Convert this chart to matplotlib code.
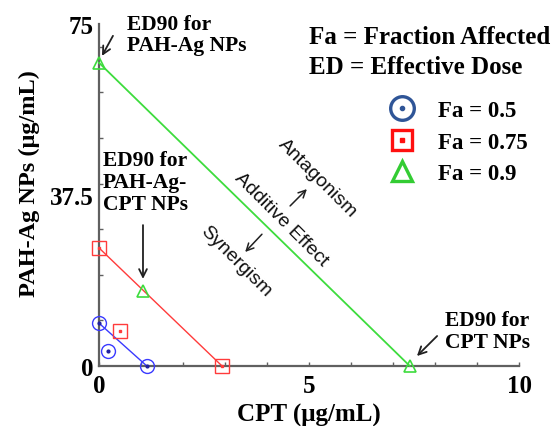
import matplotlib
matplotlib.use('Agg')
import matplotlib.pyplot as plt
from matplotlib.lines import Line2D

# isobologram data (CPT, PAH-Ag NPs) in ug/mL
fa05_cpt = [0.0, 1.14]
fa05_ag = [9.4, 0.0]
fa05_extra_cpt = [0.21]
fa05_extra_ag = [3.3]

fa075_cpt = [0.0, 2.93]
fa075_ag = [25.9, 0.0]
fa075_extra_cpt = [0.5]
fa075_extra_ag = [7.7]

fa09_cpt = [0.0, 7.4]
fa09_ag = [66.5, 0.0]
fa09_combo_cpt = [1.05]
fa09_combo_ag = [16.4]

xticks = list(range(11))
xlabels = ['0', '', '', '', '', '5', '', '', '', '', '10']
yticks = [0, 37.5, 75]
ylabels = ['0', '37.5', '75']
yminor = [10, 20, 30, 40, 50, 60, 70]

BLUE = '#3a3aff'
RED = '#ff3b3b'
GREEN = '#3ddc3d'
serif = 'Liberation Serif'
sans = 'Liberation Sans'

fig = plt.figure(figsize=(5.56, 4.27), dpi=100)
ax = fig.add_axes([0.178, 0.1405, 0.7555, 0.801])

# Fa = 0.5
ax.plot(fa05_cpt, fa05_ag, color=BLUE, lw=1.0, marker='o', ms=10,
        mfc='none', mec=BLUE, mew=1.0, clip_on=False, zorder=3)
ax.plot(fa05_extra_cpt, fa05_extra_ag, ls='none', marker='o', ms=10,
        mfc='none', mec=BLUE, mew=1.0, clip_on=False, zorder=3)
ax.plot(fa05_cpt + fa05_extra_cpt, fa05_ag + fa05_extra_ag, ls='none',
        marker='o', ms=2, color='#2020a0', clip_on=False, zorder=4)

# Fa = 0.75
ax.plot(fa075_cpt, fa075_ag, color=RED, lw=1.0, marker='s', ms=10,
        mfc='none', mec=RED, mew=1.0, clip_on=False, zorder=3)
ax.plot(fa075_extra_cpt, fa075_extra_ag, ls='none', marker='s', ms=10,
        mfc='none', mec=RED, mew=1.0, clip_on=False, zorder=3)
ax.plot(fa075_cpt + fa075_extra_cpt, fa075_ag + fa075_extra_ag, ls='none',
        marker='s', ms=1.5, color=RED, clip_on=False, zorder=4)

# Fa = 0.9
ax.plot(fa09_cpt, fa09_ag, color=GREEN, lw=1.3, marker='^', ms=9,
        mfc='none', mec=GREEN, mew=1.2, clip_on=False, zorder=3)
ax.plot(fa09_combo_cpt, fa09_combo_ag, ls='none', marker='^', ms=9,
        mfc='none', mec=GREEN, mew=1.2, clip_on=False, zorder=3)

ax.set_xlim(0, 10)
ax.set_ylim(0, 75)
for s in ['top', 'right']:
    ax.spines[s].set_visible(False)
for s in ['left', 'bottom']:
    ax.spines[s].set_color('#606060')
    ax.spines[s].set_linewidth(1.6)

ax.set_xticks(xticks, labels=xlabels)
ax.set_yticks(yticks, labels=ylabels)
ax.set_yticks(yminor, minor=True)
ax.tick_params(axis='x', direction='in', length=3, width=1, color='#606060', pad=6)
ax.tick_params(axis='y', which='major', length=0, pad=4)
ax.tick_params(axis='y', which='minor', direction='in', length=3, width=1, color='#606060')
for lab in ax.get_xticklabels() + ax.get_yticklabels():
    lab.set_fontfamily(serif)
    lab.set_fontweight('bold')
    lab.set_fontsize(18)

ax.set_xlabel('CPT (\u03bcg/mL)', fontfamily=serif, fontweight='bold', fontsize=18, labelpad=4)
ax.set_ylabel('PAH-Ag NPs (\u03bcg/mL)', fontfamily=serif, fontweight='bold', fontsize=17.5)
ax.yaxis.set_label_coords(-0.14, 0.535)

# annotations
tk = dict(fontfamily=serif, fontweight='bold', fontsize=15.5, linespacing=1.12)
ak = dict(arrowstyle='->', lw=1.3, color='#202020', shrinkA=0, shrinkB=0,
          mutation_scale=14)
ax.text(0.667, 72.7, 'ED90 for\nPAH-Ag NPs', ha='left', va='center', **tk)
ax.annotate('', xy=(0.071, 68.0), xytext=(0.333, 72.4), arrowprops=ak)
ax.text(0.1, 40.4, 'ED90 for\nPAH-Ag-\nCPT NPs', ha='left', va='center', **tk)
ax.annotate('', xy=(1.048, 19.1), xytext=(1.048, 30.9), arrowprops=ak)
ax.text(8.24, 7.7, 'ED90 for\nCPT NPs', ha='left', va='center', **tk)
ax.annotate('', xy=(7.57, 2.19), xytext=(8.05, 6.58), arrowprops=ak)

rk = dict(fontfamily=sans, fontsize=14, rotation=-45, rotation_mode='anchor',
          ha='center', va='center', color='#101010')
ax.text(5.21, 41.4, 'Antagonism', **rk)
ax.text(4.33, 32.2, 'Additive Effect', **rk)
ax.text(3.26, 23.0, 'Synergism', **rk)
ak2 = dict(arrowstyle='->', lw=1.1, color='#202020', shrinkA=0, shrinkB=0,
           mutation_scale=13)
ax.annotate('', xy=(4.95, 38.8), xytext=(4.55, 35.1), arrowprops=ak2)
ax.annotate('', xy=(3.48, 25.0), xytext=(3.88, 28.9), arrowprops=ak2)

fig.text(0.556, 0.913, 'Fa = Fraction Affected', ha='left', va='center',
         fontfamily=serif, fontweight='bold', fontsize=18)
fig.text(0.556, 0.841, 'ED = Effective Dose', ha='left', va='center',
         fontfamily=serif, fontweight='bold', fontsize=18)

# legend
h1 = (Line2D([], [], ls='none', marker='o', ms=17, mfc='none', mec='#2f5597', mew=2.4),
      Line2D([], [], ls='none', marker='o', ms=3, color='#2f5597'))
h2 = (Line2D([], [], ls='none', marker='s', ms=15, mfc='none', mec='#ff1010', mew=2.4),
      Line2D([], [], ls='none', marker='s', ms=2.5, color='#ff1010'))
h3 = Line2D([], [], ls='none', marker='^', ms=15, mfc='none', mec='#33cc33', mew=2.4)
leg = ax.legend([h1, h2, h3], ['Fa = 0.5', 'Fa = 0.75', 'Fa = 0.9'],
                loc='upper left', bbox_to_anchor=(377 / 556, 1 - 90 / 427),
                bbox_transform=fig.transFigure, frameon=False, borderpad=0,
                handlelength=1.2, handletextpad=0.98, labelspacing=0.45,
                prop=dict(family=serif, weight='bold', size=16.5))

fig.savefig('out.png', dpi=100)
